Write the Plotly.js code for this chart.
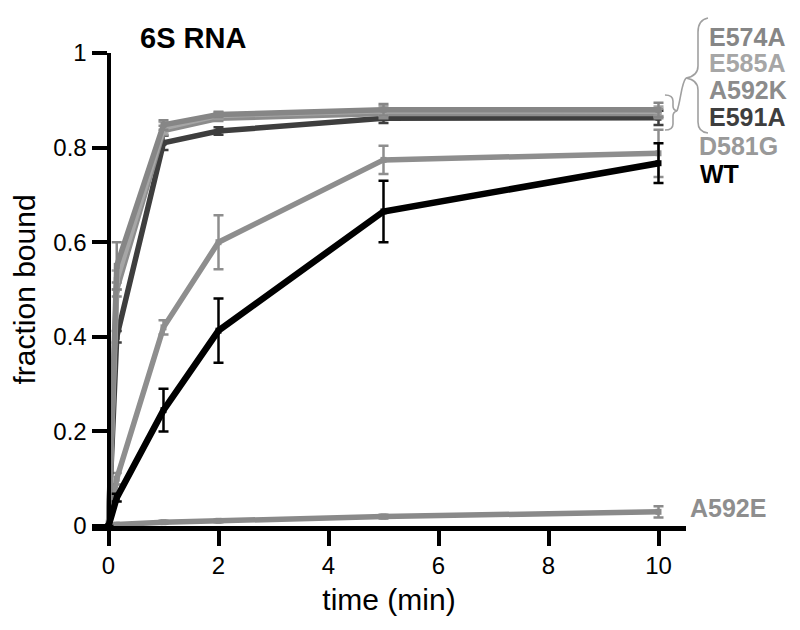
<!DOCTYPE html>
<html>
<head>
<meta charset="utf-8">
<script src="https://cdn.plot.ly/plotly-3.0.1.min.js"></script>
<style>html,body{margin:0;padding:0;background:#fff;}#chart{width:800px;height:630px;}</style>
</head>
<body>
<div id="chart"></div>
<script>
// ---- data ----
const time = [0, 0.15, 1, 2, 5, 10];

const E574A = [0, 0.55, 0.848, 0.870, 0.880, 0.880];
const E574A_err = [0, 0.05, 0.010, 0.006, 0.012, 0.015];
const E585A = [0, 0.52, 0.842, 0.868, 0.878, 0.877];
const E585A_err = [0, 0.02, 0.012, 0.006, 0.010, 0.010];
const A592K = [0, 0.50, 0.836, 0.862, 0.872, 0.872];
const A592K_err = [0, 0.015, 0.010, 0.006, 0.010, 0.010];
const E591A = [0, 0.40, 0.810, 0.835, 0.862, 0.863];
const E591A_err = [0, 0.012, 0.015, 0.008, 0.010, 0.015];
const D581G = [0, 0.10, 0.420, 0.600, 0.774, 0.788];
const D581G_err = [0, 0.012, 0.015, 0.057, 0.030, 0.050];
const WT = [0, 0.06, 0.245, 0.413, 0.665, 0.767];
const WT_err = [0, 0.008, 0.045, 0.068, 0.065, 0.042];
const A592E = [0, 0.003, 0.008, 0.011, 0.020, 0.030];
const A592E_err = [0, 0.002, 0.003, 0.003, 0.004, 0.012];

const seriesNames = ['A592E', 'D581G', 'E591A', 'A592K', 'E585A', 'E574A', 'WT'];
const seriesColors = {A592E:'#8a8a8a', D581G:'#8e8e8e', E591A:'#3e3e3e', A592K:'#8c8c8c', E585A:'#a6a6a6', E574A:'#868686', WT:'#000000'};
const seriesValues = {A592E, D581G, E591A, A592K, E585A, E574A, WT};
const seriesErrors = {A592E:A592E_err, D581G:D581G_err, E591A:E591A_err, A592K:A592K_err, E585A:E585A_err, E574A:E574A_err, WT:WT_err};
const xTicks = [0, 2, 4, 6, 8, 10];
const yTicks = [0, 0.2, 0.4, 0.6, 0.8, 1];
const yTickText = ['0', '0.2', '0.4', '0.6', '0.8', '1'];

// ---- layout geometry ----
const W = 800, H = 630;
const M = {l: 92, r: 114, t: 53, b: 104};
const PW = W - M.l - M.r, PH = H - M.t - M.b;
const px = x => (x - M.l) / PW;
const py = y => (H - M.b - y) / PH;
const FONT = 'Liberation Sans, Arial, Helvetica, sans-serif';

const traces = seriesNames.map(n => ({
  x: time, y: seriesValues[n], type: 'scatter', mode: 'lines+markers', name: n,
  line: {color: seriesColors[n], width: n === 'WT' ? 6.5 : 5.5},
  marker: {color: seriesColors[n], size: 6, symbol: 'square'},
  error_y: {type: 'data', array: seriesErrors[n], visible: true, color: seriesColors[n], thickness: 2.5, width: 5},
  cliponaxis: false, showlegend: false, hoverinfo: 'skip'
}));

// brace decorations (pixel path -> paper coords)
function pathPx(cmds) {
  return cmds.map(c => {
    if (typeof c === 'string') return c;
    return px(c[0]).toFixed(4) + ',' + py(c[1]).toFixed(4);
  }).join(' ');
}
const bigBrace = pathPx(['M', [708, 18], 'Q', [698, 20], [698, 32], 'L', [698, 66], 'Q', [698, 76], [686, 78],
  'Q', [698, 80], [698, 90], 'L', [698, 122], 'Q', [698, 132], [708, 133]]);
const smallBrace = pathPx(['M', [665, 95], 'Q', [673, 95], [673, 101], 'L', [673, 106], 'Q', [673, 110], [677, 111],
  'Q', [673, 112], [673, 116], 'L', [673, 124], 'Q', [673, 130], [665, 130]]);
const link = pathPx(['M', [677, 111], 'C', [681, 100], [681, 84], [686, 78]]);
const braceLine = {color: '#a0a0a0', width: 1.6};

const labels = [
  ['E574A', 707, 37, '#868686'], ['E585A', 707, 63, '#a6a6a6'], ['A592K', 707, 90, '#8c8c8c'],
  ['E591A', 707, 117, '#3e3e3e'], ['D581G', 697, 146, '#999999'], ['WT', 698, 174, '#000000'],
  ['A592E', 688, 508, '#8e8e8e']
];

const annotations = labels.map(l => ({
  text: '<b>' + l[0] + '</b>', xref: 'paper', yref: 'paper', x: px(l[1]), y: py(l[2]),
  xanchor: 'left', yanchor: 'middle', showarrow: false,
  font: {family: FONT, size: 25, color: l[3]}
}));
annotations.push({text: '<b>6S RNA</b>', xref: 'paper', yref: 'paper', x: px(138), y: py(38),
  xanchor: 'left', yanchor: 'middle', showarrow: false, font: {family: FONT, size: 29, color: '#000'}});

const layout = {
  width: W, height: H, margin: M, paper_bgcolor: '#fff', plot_bgcolor: '#fff',
  font: {family: FONT, color: '#000'},
  xaxis: {
    range: [-0.3, 10.5], tickvals: xTicks, ticks: 'outside', ticklen: 15, tickwidth: 4, tickcolor: '#000',
    showline: true, linewidth: 4.5, linecolor: '#000', showgrid: false, zeroline: false,
    tickfont: {family: FONT, size: 24, color: '#000'},
    title: {text: 'time (min)', font: {family: FONT, size: 30, color: '#000'}, standoff: 12}
  },
  yaxis: {
    range: [0, 1], tickvals: yTicks, ticktext: yTickText, ticks: 'outside', ticklen: 15, tickwidth: 4, tickcolor: '#000',
    showline: true, linewidth: 4.5, linecolor: '#000', showgrid: false, zeroline: false,
    anchor: 'free', position: 0.3 / 10.8,
    tickfont: {family: FONT, size: 24, color: '#000'},
    title: {text: 'fraction bound', font: {family: FONT, size: 30, color: '#000'}, standoff: 8}
  },
  shapes: [
    {type: 'path', xref: 'paper', yref: 'paper', path: bigBrace, line: braceLine},
    {type: 'path', xref: 'paper', yref: 'paper', path: smallBrace, line: braceLine},
    {type: 'path', xref: 'paper', yref: 'paper', path: link, line: braceLine}
  ],
  annotations: annotations,
  showlegend: false
};

Plotly.newPlot('chart', traces, layout, {displayModeBar: false, staticPlot: true});
</script>
</body>
</html>
